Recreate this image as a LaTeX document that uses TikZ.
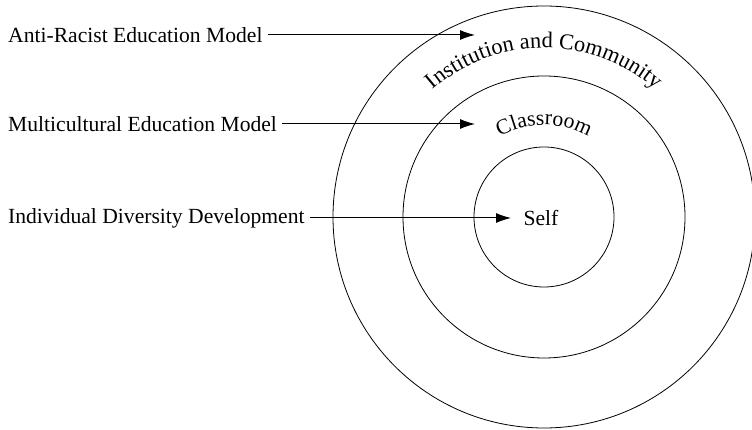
\documentclass[tikz,border=0pt]{standalone}
\usepackage{fontspec}
\setmainfont{Liberation Serif}
\usetikzlibrary{arrows.meta,calc,decorations.text}
\newcommand{\ringfont}{\fontsize{21.6}{26}\selectfont}
\newcommand{\arcfont}{\fontsize{22.4}{27}\selectfont}

\begin{document}
\begin{tikzpicture}[x=1pt,y=1pt,
    pointer/.style={draw,line width=1pt,-{Latex[length=15pt,width=10pt]}},
    ringtext/.style={decorate,decoration={text along path,text align=center,text={#1}}}]

        \useasboundingbox (0,0) rectangle (752,430);
        \coordinate (c) at (544,213);

        \begin{scope}[every node/.style={circle,draw,line width=0.8pt,inner sep=0pt}]
          \node[minimum size=422pt] (community) at (c) {};
          \node[minimum size=282pt] (classroom) at (c) {};
          \node[minimum size=140pt] (core)      at (c) {};
        \end{scope}

        \begin{scope}[every node/.style={anchor=west,inner xsep=5pt,font=\ringfont}]
          \node (antiracist)    at (3,395) {Anti-Racist Education Model};
          \node (multicultural) at (3,306) {Multicultural Education Model};
          \node (individual)    at (3,212) {Individual Diversity Development};
        \end{scope}

        \node[font=\ringfont] (self) at (541,212) {Self};

        \coordinate (tipA) at (475,395);
        \coordinate (tipM) at (475,306);
        \coordinate (tipI) at (511,212);

        \path (antiracist)    edge[pointer] (tipA);
        \path (multicultural) edge[pointer] (tipM);
        \path (individual)    edge[pointer] (tipI);

        % text round the rings
        \path[ringtext={|\arcfont|Institution and Community}]
          ($(c)+(180:169)$) arc[start angle=180,end angle=0,radius=169];
        \path[ringtext={|\ringfont|Classroom}]
          ($(c)+(180:92)$) arc[start angle=180,end angle=0,radius=92];

      \end{tikzpicture}
\end{document}
